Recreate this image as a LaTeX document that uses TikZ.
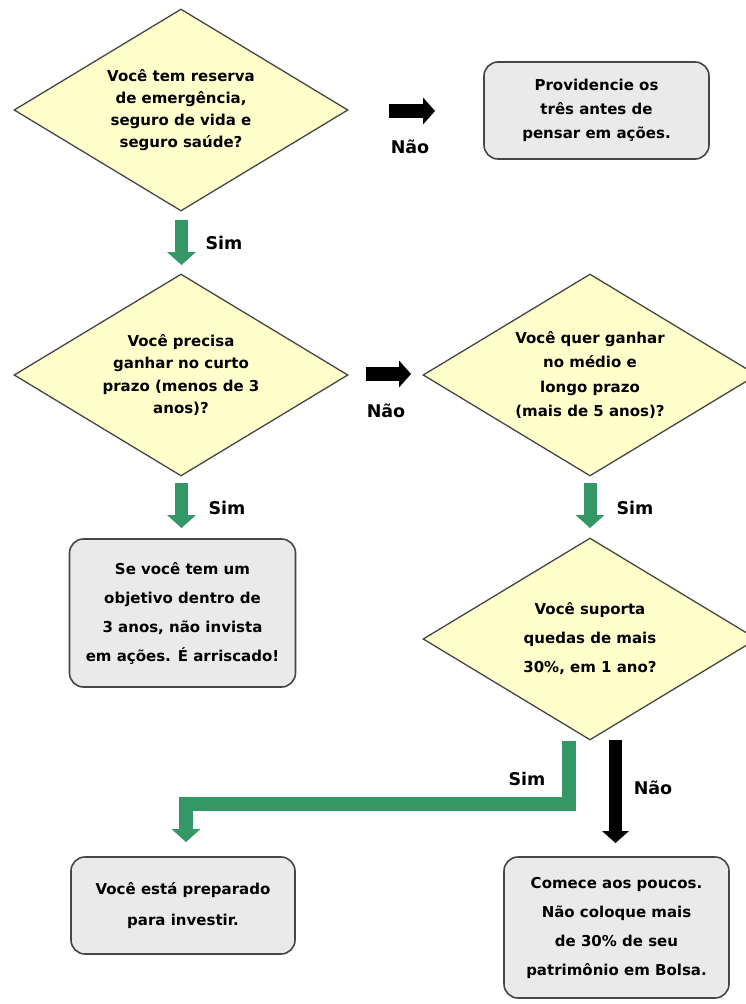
\documentclass[tikz,border=0pt]{standalone}
\usepackage{fontspec}
\setmainfont{DejaVu Sans}
\usetikzlibrary{shapes.geometric,arrows.meta,calc}
\definecolor{arrowgreen}{RGB}{52,152,102}
\definecolor{dfill}{RGB}{255,255,204}
\definecolor{bfill}{RGB}{234,234,234}
\definecolor{edgegray}{RGB}{70,70,70}
\begin{document}
\begin{tikzpicture}[x=1pt,y=-1pt,
  decision/.style={diamond, draw=edgegray, line width=1.3pt, fill=dfill,
    minimum width=334pt, minimum height=202pt, shape aspect=1.65, inner sep=0pt,
    align=center, font=\fontsize{15}{22}\selectfont\bfseries},
  endbox/.style={rectangle, rounded corners=14pt, draw=edgegray, line width=1.6pt,
    fill=bfill, align=center, inner sep=0pt, font=\fontsize{15}{29}\selectfont\bfseries},
  lbl/.style={font=\fontsize{17.5}{20}\selectfont\bfseries},
  greenarrow/.style={draw=arrowgreen, line width=13pt,
    -{Triangle[width=29pt,length=13pt,line width=0pt]}},
  blackarrow/.style={draw=black, line width=14pt,
    -{Triangle[width=27pt,length=12pt,line width=0pt]}},
]
\useasboundingbox (0,0) rectangle (745,1004);
\fill[white] (0,0) rectangle (745,1004);

% nodes
\node[decision] (d1) at (181,110) {Você tem reserva\\de emergência,\\seguro de vida e\\seguro saúde?};
\node[endbox, minimum width=225pt, minimum height=97pt,
  font=\fontsize{15}{24}\selectfont\bfseries] (b1) at (596.5,110.5)
  {Providencie os\\três antes de\\pensar em ações.};
\node[decision, font=\fontsize{15}{22.5}\selectfont\bfseries] (d2) at (181,375)
  {Você precisa\\ganhar no curto\\prazo (menos de 3\\anos)?};
\node[decision, font=\fontsize{15}{24.5}\selectfont\bfseries] (d3) at (590,375)
  {Você quer ganhar\\no médio e\\longo prazo\\(mais de 5 anos)?};
\node[endbox, minimum width=226pt, minimum height=148pt] (b2) at (182.5,613)
  {Se você tem um\\objetivo dentro de\\3 anos, não invista\\em ações. É arriscado!};
\node[decision, font=\fontsize{15}{29}\selectfont\bfseries] (d4) at (590,639)
  {Você suporta\\quedas de mais\\30\%, em 1 ano?};
\node[endbox, minimum width=224pt, minimum height=97pt,
  font=\fontsize{15}{31}\selectfont\bfseries] (b3) at (183,905.5)
  {Você está preparado\\para investir.};
\node[endbox, minimum width=225pt, minimum height=141pt] (b4) at (616.5,927.5)
  {Comece aos poucos.\\Não coloque mais\\de 30\% de seu\\patrimônio em Bolsa.};

% labels
\node[lbl] (l1) at (224,243) {Sim};
\node[lbl] (l2) at (410,147) {Não};
\node[lbl] (l3) at (386,411) {Não};
\node[lbl] (l4) at (227,508) {Sim};
\node[lbl] (l5) at (635,508) {Sim};
\node[lbl] (l6) at (527,779) {Sim};
\node[lbl] (l7) at (653,788) {Não};

% arrow end points
\coordinate (g1s) at (181.5,220);  \coordinate (g1e) at (181.5,265);
\coordinate (k1s) at (389,111);    \coordinate (k1e) at (435,111);
\coordinate (k2s) at (366,374);    \coordinate (k2e) at (411,374);
\coordinate (g3s) at (181.5,483);  \coordinate (g3e) at (181.5,528);
\coordinate (g4s) at (590,483);    \coordinate (g4e) at (590,528);
\coordinate (g5s) at (569,741);    \coordinate (g5a) at (569,803.5);
\coordinate (g5b) at (186,803.5);  \coordinate (g5e) at (186,842);
\coordinate (k3s) at (615.5,740);  \coordinate (k3e) at (615.5,843);

% arrows
\draw[greenarrow] (g1s) -- (g1e);
\draw[blackarrow] (k1s) -- (k1e);
\draw[blackarrow] (k2s) -- (k2e);
\draw[greenarrow] (g3s) -- (g3e);
\draw[greenarrow] (g4s) -- (g4e);
\draw[greenarrow, line width=14pt] (g5s) -- (g5a) -- (g5b) -- (g5e);
\draw[blackarrow, line width=13pt] (k3s) -- (k3e);
\end{tikzpicture}
\end{document}
